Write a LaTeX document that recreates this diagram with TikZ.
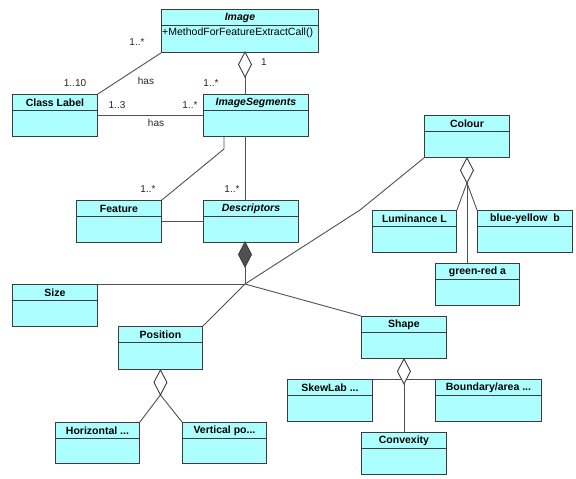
\documentclass[tikz,border=0pt]{standalone}
\usepackage{fontspec}
\setmainfont{Liberation Sans}
\definecolor{clsfill}{HTML}{ADFFFF}
\definecolor{clsline}{HTML}{3C3C3C}
\definecolor{conline}{HTML}{505050}
\tikzset{
  clsbox/.style={draw=clsline, fill=clsfill, line width=0.9pt, inner sep=0pt, anchor=north west},
  hdr/.style={font=\fontsize{10.5}{12}\selectfont\bfseries, inner sep=0pt},
  hdri/.style={font=\fontsize{10.5}{12}\selectfont\bfseries\itshape, inner sep=0pt},
  sep/.style={draw=clsline, line width=0.9pt},
  con/.style={draw=conline, line width=0.9pt},
  mult/.style={font=\fontsize{10}{12}\selectfont, text=black!85, inner sep=0pt},
  diamopen/.style={draw=clsline, fill=white, line width=0.9pt},
  diamfull/.style={draw=clsline, fill=clsline!90, line width=0.9pt}
}
% name, x, y, w, h, label, header style
\newcommand\umlcls[7]{%
  \node[clsbox, minimum width=#4pt, minimum height=#5pt] (#1) at (#2,#3) {};
  \draw[sep] ([yshift=-16pt]#1.north west) -- ([yshift=-16pt]#1.north east);
  \node[#7] (#1-t) at ([yshift=-8.5pt]#1.north) {#6};
}
% diamond: top-point name, fill style, bottom-point name
\newcommand\umldiam[3]{%
  \draw[#2] (#1) -- ++(6.5,12.5) coordinate (#3) -- ++(-6.5,12.5) -- ++(-6.5,-12.5) -- cycle;
}
\begin{document}
\begin{tikzpicture}[x=1pt, y=-1pt]
\useasboundingbox (0,0) rectangle (576,479);

% classes
\umlcls{Image}{161}{9}{157}{43}{Image}{hdri}
\node[anchor=west, font=\fontsize{10.5}{12}\selectfont, inner sep=0pt] (Image-m) at (162,33) {+MethodForFeatureExtractCall()};
\umlcls{ClassLabel}{12}{94}{85}{42}{Class Label}{hdr}
\umlcls{ImageSegments}{203}{94}{105}{42}{ImageSegments}{hdri}
\umlcls{Feature}{76}{200}{85}{42}{Feature}{hdr}
\umlcls{Descriptors}{203}{200}{95}{42}{Descriptors}{hdri}
\umlcls{Size}{12}{284}{85}{42}{Size}{hdr}
\umlcls{Position}{118}{326}{84}{43}{Position}{hdr}
\umlcls{Shape}{361}{316}{85}{42}{Shape}{hdr}
\umlcls{Colour}{424}{115}{85}{42}{Colour}{hdr}
\umlcls{Luminance}{372}{210}{84}{42}{Luminance L}{hdr}
\umlcls{BlueYellow}{477}{210}{95}{42}{blue-yellow~~b}{hdr}
\umlcls{GreenRed}{435}{263}{84}{42}{green-red a}{hdr}
\umlcls{Horizontal}{55}{422}{84}{41}{Horizontal ...}{hdr}
\umlcls{Vertical}{182}{422}{84}{41}{Vertical po...}{hdr}
\umlcls{SkewLab}{287}{379}{85}{42}{SkewLab ...}{hdr}
\umlcls{Boundary}{435}{379}{106}{42}{Boundary/area ...}{hdr}
\umlcls{Convexity}{361}{432}{85}{42}{Convexity}{hdr}

% Image -- ImageSegments (aggregation)
\coordinate (dImgTop) at (245,52);
\draw[con] (dImgTop |- ImageSegments.north) -- (dImgTop);
\umldiam{dImgTop}{diamopen}{dImgMid}
\node[mult] (m1) at (264,62) {1};
\node[mult] (m2) at (211,83) {1..*};

% Image -- Class Label
\draw[con] (Image.south west) -- (ClassLabel.north east);
\node[mult] (m3) at (137,42) {1..*};
\node[mult] (m4) at (75,83) {1..10};
\node[mult] (h1) at (146,81) {has};

% Class Label -- ImageSegments
\draw[con] (ClassLabel.east) -- (ImageSegments.west);
\node[mult] (m5) at (117,105) {1..3};
\node[mult] (m6) at (190,105) {1..*};
\node[mult] (h2) at (156,123) {has};

% ImageSegments -- Feature
\coordinate (segL) at ([xshift=21pt]ImageSegments.south west);
\coordinate (segBend) at (224,149);
\draw[con] (segL) -- (segBend) -- (Feature.north east);
\node[mult] (m7) at (148,189) {1..*};

% ImageSegments -- Descriptors
\coordinate (segD) at (245,136);
\draw[con] (segD) -- (segD |- Descriptors.north);
\node[mult] (m8) at (232,189) {1..*};

% Feature -- Descriptors
\draw[con] (Feature.east) -- (Descriptors.west);

% Descriptors composition
\coordinate (dDesTop) at (245,242);
\coordinate (J) at (245,284);
\umldiam{dDesTop}{diamfull}{dDesMid}
\draw[con] (dDesTop) ++(0,25) -- (J);
\draw[con] (Size.north east) -- (J);
\draw[con] (Position.north east) -- (J);
\draw[con] (J) -- (Shape.north west);
\coordinate (colBend) at (360,210);
\draw[con] (J) -- (colBend) -- (Colour.south west);

% Colour aggregation
\coordinate (dColTop) at (Colour.south);
\coordinate (dColBot) at ([yshift=-25pt]Colour.south);
\draw[con] (dColBot) -- (Luminance.north east);
\draw[con] (dColBot) -- (BlueYellow.north west);
\draw[con] (dColBot) -- (dColBot |- GreenRed.north);
\umldiam{dColTop}{diamopen}{dColMid}

% Position aggregation
\coordinate (dPosTop) at (Position.south);
\coordinate (dPosBot) at ([yshift=-25pt]Position.south);
\draw[con] (dPosBot) -- (Horizontal.north east);
\draw[con] (dPosBot) -- (Vertical.north west);
\umldiam{dPosTop}{diamopen}{dPosMid}

% Shape aggregation
\coordinate (dShTop) at (Shape.south);
\coordinate (dShBot) at ([yshift=-25pt]Shape.south);
\draw[con] (SkewLab.north east) -- (Boundary.north west);
\draw[con] (dShBot) -- (dShBot |- Convexity.north);
\umldiam{dShTop}{diamopen}{dShMid}
\end{tikzpicture}
\end{document}
